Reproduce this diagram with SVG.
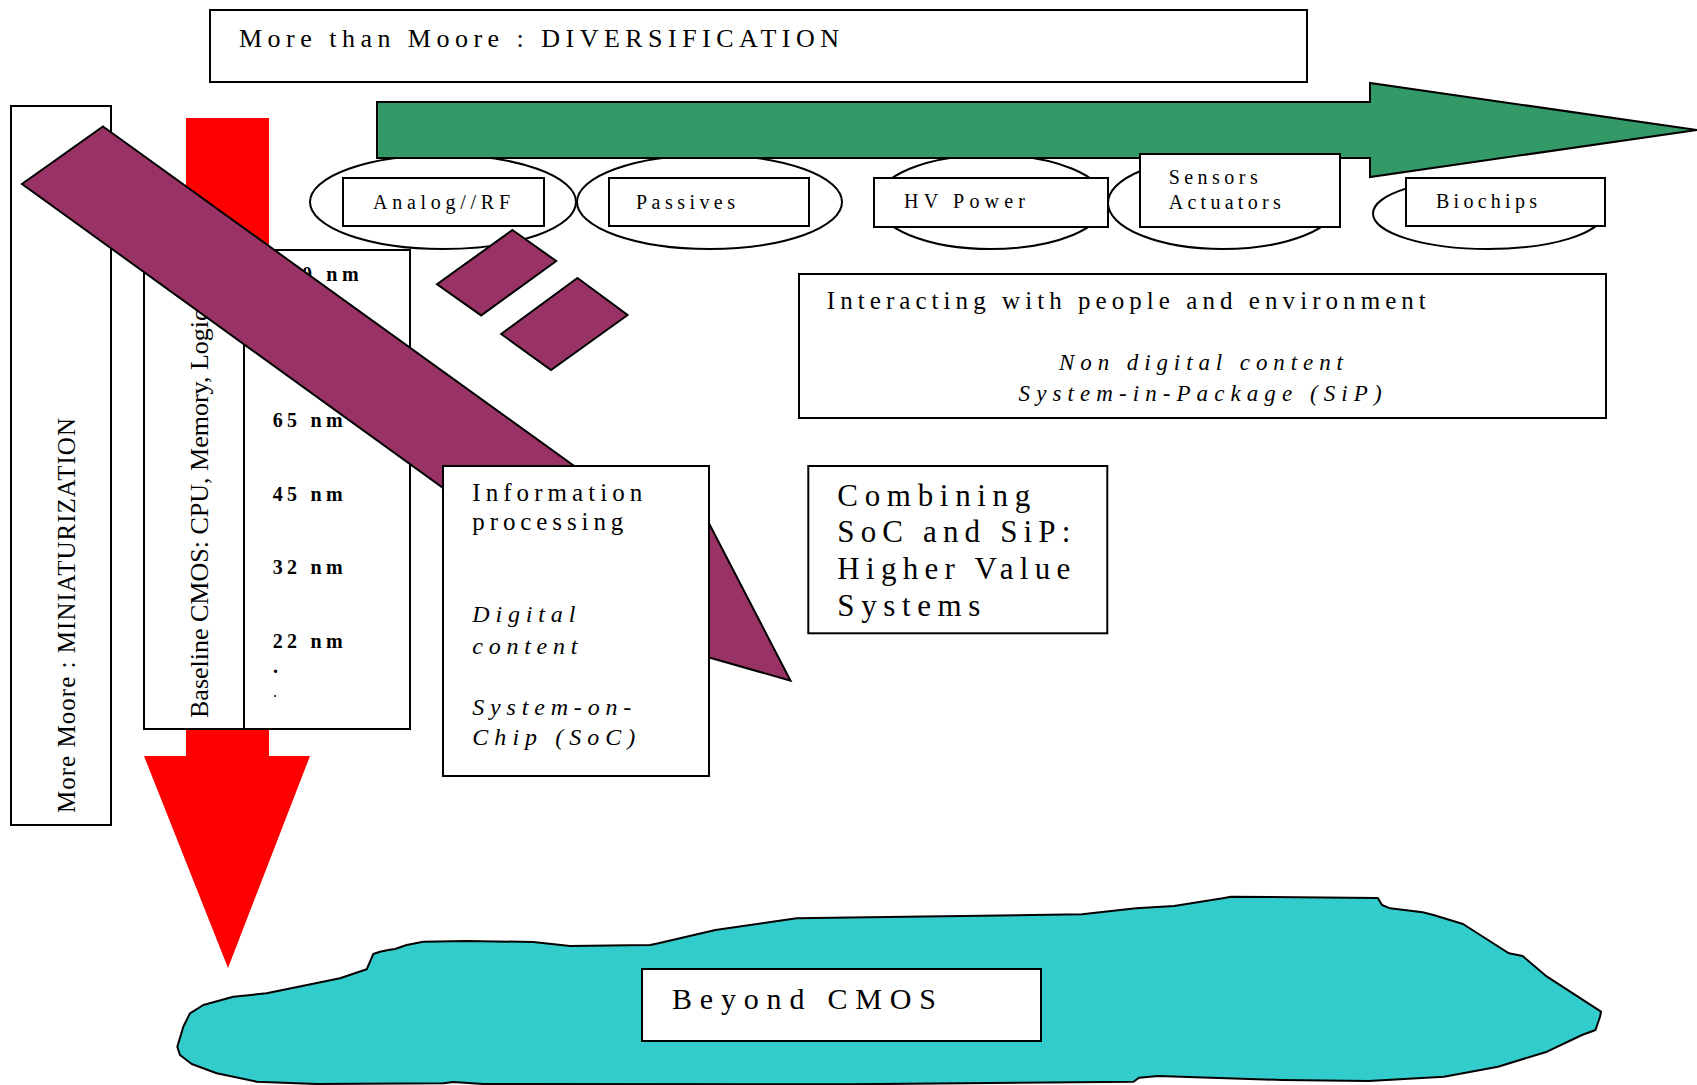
<svg xmlns="http://www.w3.org/2000/svg" width="1697" height="1085" viewBox="0 0 1697 1085">
<style>
.box{fill:#fff;stroke:#000;stroke-width:2}
.ell{fill:#fff;stroke:#000;stroke-width:2}
.t{font-family:"Liberation Serif","Times New Roman",serif;fill:#000}
.i{font-style:italic}
.b{font-weight:bold}
</style>
<rect width="1697" height="1085" fill="#fff"/>
<g id="cloud">
<path d="M177.3,1046.7 L183.3,1026.7 L190,1013.3 L203.3,1005 L233.3,996.7 L266.7,993.3 L340,978.3 L366.7,969.3 L373.3,954 L380,951.7 L388.3,950 L395,949 L406.7,945 L423.3,941.7 L466.7,941 L533.3,942 L570,946 L650,945 L658.5,943.3 L715.4,930 L796.7,918.3 L850,917.5 L1082,914.3 L1136,908.3 L1174,906 L1222.8,898.3 L1231,896.7 L1377.8,898 L1382,905 L1390,908.3 L1422.7,912.3 L1433.5,915 L1463,924 L1503.7,950 L1509,953.3 L1522.6,956 L1547,976.7 L1601,1011.7 L1600,1016.7 L1595.5,1030 L1582,1035 L1547,1051.7 L1498,1066.7 L1444,1076.7 L1368.6,1081 L1282,1080 L1158,1076 L1139,1077.7 L1133.6,1081.7 L850,1084.3 L483.3,1084 L453.3,1082 L443.3,1083.3 L316.7,1084 L256.7,1081.7 L216.7,1073.3 L191.7,1064 L180,1055 Z" fill="#33CCCC" stroke="#000" stroke-width="2" stroke-linejoin="round"/>
</g>
<g id="beyond">
<rect class="box" x="642" y="969" width="399" height="72"/>
<text class="t" x="672" y="1009.3" font-size="30" textLength="264" lengthAdjust="spacing">Beyond CMOS</text>
</g>
<g id="red-arrow">
<polygon points="186,118 269,118 269,756 310,756 228,968 144,756 186,756" fill="#FF0000"/>
</g>
<g id="more-moore">
<rect class="box" x="11" y="106" width="100" height="719"/>
<text class="t" transform="translate(75,813) rotate(-90)" font-size="25" textLength="395" lengthAdjust="spacing">More Moore : MINIATURIZATION</text>
</g>
<g id="baseline">
<rect class="box" x="144" y="250" width="100" height="479"/>
<text class="t" transform="translate(208,718) rotate(-90)" font-size="26">Baseline CMOS: CPU, Memory, Logic</text>
</g>
<g id="nodes-nm">
<rect class="box" x="244" y="250" width="166" height="479"/>
<text class="t b" x="272.7" y="280.7" font-size="20" textLength="86" lengthAdjust="spacing">130 nm</text>
<text class="t b" x="272.7" y="426.7" font-size="20" textLength="70" lengthAdjust="spacing">65 nm</text>
<text class="t b" x="272.7" y="500.7" font-size="20" textLength="70" lengthAdjust="spacing">45 nm</text>
<text class="t b" x="272.7" y="574" font-size="20" textLength="70" lengthAdjust="spacing">32 nm</text>
<text class="t b" x="272.7" y="647.7" font-size="20" textLength="70" lengthAdjust="spacing">22 nm</text>
<text class="t b" x="273" y="673" font-size="20">.</text>
<text class="t" x="273" y="697" font-size="16">.</text>
</g>
<g id="ellipses">
<ellipse class="ell" cx="443" cy="202" rx="133" ry="47"/>
<ellipse class="ell" cx="709.5" cy="202" rx="132.5" ry="47"/>
<ellipse class="ell" cx="991" cy="202" rx="115" ry="47"/>
<ellipse class="ell" cx="1223" cy="203" rx="115" ry="46"/>
<ellipse class="ell" cx="1488" cy="213.5" rx="115" ry="35.5"/>
</g>
<g id="green-arrow">
<polygon points="377,102 1370,102 1370,83 1697,130 1370,177 1370,158 377,158" fill="#339966" stroke="#000" stroke-width="2" stroke-linejoin="miter"/>
</g>
<g id="title">
<rect class="box" x="210" y="10" width="1097" height="72"/>
<text class="t" x="239" y="46.7" font-size="26" textLength="600" lengthAdjust="spacing">More than Moore : DIVERSIFICATION</text>
</g>
<g id="analog">
<rect class="box" x="343" y="178" width="201" height="48"/>
<text class="t" x="373" y="209.3" font-size="20" textLength="137" lengthAdjust="spacing">Analog//RF</text>
</g>
<g id="passives">
<rect class="box" x="609" y="178" width="200" height="48"/>
<text class="t" x="636" y="209.3" font-size="20" textLength="99" lengthAdjust="spacing">Passives</text>
</g>
<g id="hv-power">
<rect class="box" x="874" y="178" width="234" height="49"/>
<text class="t" x="904" y="208.3" font-size="20" textLength="121" lengthAdjust="spacing">HV Power</text>
</g>
<g id="sensors">
<rect class="box" x="1140" y="154" width="200" height="73"/>
<text class="t" x="1168.7" y="184.3" font-size="20" textLength="89" lengthAdjust="spacing">Sensors</text>
<text class="t" x="1168.7" y="209" font-size="20" textLength="112" lengthAdjust="spacing">Actuators</text>
</g>
<g id="biochips">
<rect class="box" x="1406" y="178" width="199" height="48"/>
<text class="t" x="1436" y="208.3" font-size="20" textLength="101" lengthAdjust="spacing">Biochips</text>
</g>
<g id="purple-arrow">
<polygon points="103,126.5 620,499 690,486.7 790.5,680.7 600,626.4 560,572.4 22,184" fill="#993366" stroke="#000" stroke-width="2" stroke-linejoin="miter"/>
</g>
<g id="diamonds">
<polygon points="512.4,230 556.2,261 481.2,315.4 437,284.3" fill="#993366" stroke="#000" stroke-width="2"/>
<polygon points="577.5,278 627.6,315 551,370 501.2,334" fill="#993366" stroke="#000" stroke-width="2"/>
</g>
<g id="info">
<rect class="box" x="443" y="466" width="266" height="310"/>
<text class="t" x="472.3" y="500.7" font-size="25" textLength="170" lengthAdjust="spacing">Information</text>
<text class="t" x="472.3" y="530" font-size="25" textLength="151" lengthAdjust="spacing">processing</text>
<text class="t i" x="472.3" y="622.3" font-size="24" textLength="103" lengthAdjust="spacing">Digital</text>
<text class="t i" x="472.3" y="654" font-size="24" textLength="105" lengthAdjust="spacing">content</text>
<text class="t i" x="472.3" y="715" font-size="24" textLength="159" lengthAdjust="spacing">System-on-</text>
<text class="t i" x="472.3" y="745" font-size="24" textLength="163" lengthAdjust="spacing">Chip (SoC)</text>
</g>
<g id="interacting">
<rect class="box" x="799" y="274" width="807" height="144"/>
<text class="t" x="826.8" y="309.3" font-size="25" textLength="599" lengthAdjust="spacing">Interacting with people and environment</text>
<text class="t i" x="1059" y="370" font-size="23" textLength="284" lengthAdjust="spacing">Non digital content</text>
<text class="t i" x="1018.6" y="400.7" font-size="23" textLength="363" lengthAdjust="spacing">System-in-Package (SiP)</text>
</g>
<g id="combining">
<rect class="box" x="808.3" y="466" width="299" height="167.3"/>
<text class="t" x="837.3" y="505.7" font-size="31" textLength="193" lengthAdjust="spacing">Combining</text>
<text class="t" x="837.3" y="541.7" font-size="31" textLength="233" lengthAdjust="spacing">SoC and SiP:</text>
<text class="t" x="837.3" y="579" font-size="31" textLength="233" lengthAdjust="spacing">Higher Value</text>
<text class="t" x="837.3" y="615.7" font-size="31" textLength="143" lengthAdjust="spacing">Systems</text>
</g>
<g id="connectors"></g>
</svg>
